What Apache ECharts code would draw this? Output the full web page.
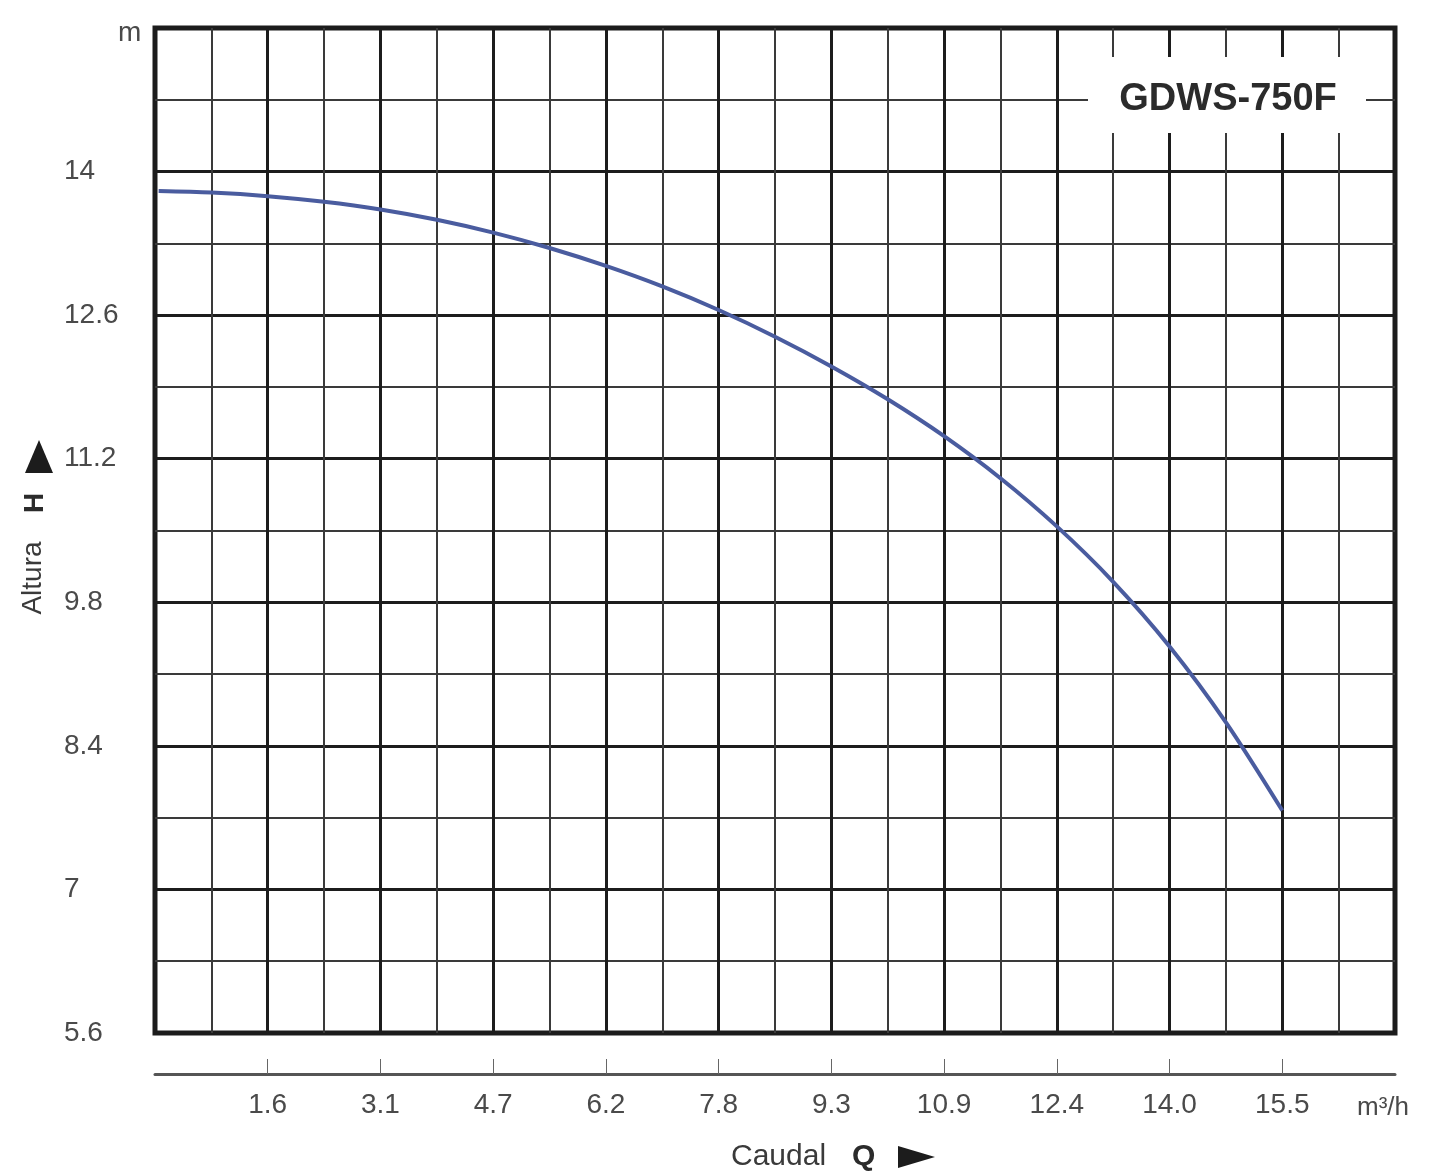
<!DOCTYPE html>
<html>
<head>
<meta charset="utf-8">
<title>GDWS-750F</title>
<script src="https://cdn.jsdelivr.net/npm/echarts@6/dist/echarts.min.js"></script>
<style>
  html, body { margin: 0; padding: 0; background: #fff; }
  #main { width: 1429px; height: 1173px; }
</style>
</head>
<body>
<div id="main"></div>
<script>
// caudal Q (m³/h) y altura H (m)
let caudal = [0.05, 0.775, 1.55, 2.325, 3.1, 3.875, 4.65, 5.425, 6.2, 6.975, 7.75,
    8.525, 9.3, 10.075, 10.85, 11.625, 12.4, 13.175, 13.95, 14.725, 15.5];
let altura = [13.81, 13.795, 13.76, 13.705, 13.63, 13.53, 13.405, 13.255, 13.08, 12.88, 12.65,
    12.39, 12.10, 11.78, 11.42, 11.01, 10.54, 10.0, 9.37, 8.63, 7.77];

// ejes
let qTicks = [1.55, 3.1, 4.65, 6.2, 7.75, 9.3, 10.85, 12.4, 13.95, 15.5];
let qLabels = ['1.6', '3.1', '4.7', '6.2', '7.8', '9.3', '10.9', '12.4', '14.0', '15.5'];
let hTicks = [5.6, 7, 8.4, 9.8, 11.2, 12.6, 14];
let hLabels = ['5.6', '7', '8.4', '9.8', '11.2', '12.6', '14'];

const FONT = "'Liberation Sans', Arial, Helvetica, sans-serif";

function labelOf(ticks, labels, v) {
    for (let i = 0; i < ticks.length; i++) {
        if (Math.abs(ticks[i] - v) < 1e-6) {
            return labels[i];
        }
    }
    return '';
}

let myChart = echarts.init(document.getElementById('main'));

let option = {
    backgroundColor: '#fff',
    animation: false,
    grid: {
        left: 155,
        right: 34,
        top: 28,
        bottom: 140,
        show: true,
        borderWidth: 5,
        borderColor: '#1c1c1c'
    },
    xAxis: {
        type: 'value',
        min: 0,
        max: 17.05,
        interval: 1.55,
        offset: 41,
        axisLine: {
            show: true,
            lineStyle: { color: '#555', width: 3 }
        },
        axisTick: {
            show: true,
            inside: true,
            length: 15,
            customValues: qTicks,
            lineStyle: { color: '#666', width: 1 }
        },
        axisLabel: {
            customValues: qTicks,
            margin: 17,
            fontFamily: FONT,
            fontSize: 28,
            color: '#4a4a4a',
            formatter: v => labelOf(qTicks, qLabels, v)
        },
        splitLine: {
            show: true,
            lineStyle: { color: '#1c1c1c', width: 3 }
        },
        minorTick: { show: false, splitNumber: 2 },
        minorSplitLine: {
            show: true,
            lineStyle: { color: '#3a3a3a', width: 2 }
        }
    },
    yAxis: {
        type: 'value',
        min: 5.6,
        max: 15.4,
        interval: 1.4,
        axisLine: { show: false },
        axisTick: { show: false },
        axisLabel: {
            align: 'left',
            margin: 91,
            fontFamily: FONT,
            fontSize: 28,
            color: '#4a4a4a',
            formatter: v => labelOf(hTicks, hLabels, v)
        },
        splitLine: {
            show: true,
            lineStyle: { color: '#1c1c1c', width: 3 }
        },
        minorTick: { show: false, splitNumber: 2 },
        minorSplitLine: {
            show: true,
            lineStyle: { color: '#3a3a3a', width: 2 }
        }
    },
    series: [{
        name: 'GDWS-750F',
        type: 'line',
        data: caudal.map((q, i) => [q, altura[i]]),
        smooth: 0.3,
        showSymbol: false,
        lineStyle: { color: '#4a5c9f', width: 4 },
        z: 5
    }],
    graphic: [
        // recuadro del modelo
        {
            type: 'rect',
            z: 100,
            shape: { x: 1088, y: 57, width: 278, height: 76 },
            style: { fill: '#fff' }
        },
        {
            type: 'text',
            z: 101,
            x: 1228,
            y: 100,
            style: {
                text: 'GDWS-750F',
                font: "bold 38px " + FONT,
                fill: '#2b2b2b',
                align: 'center',
                verticalAlign: 'middle'
            }
        },
        // unidades
        {
            type: 'text',
            x: 118,
            y: 33,
            style: {
                text: 'm',
                font: "28px " + FONT,
                fill: '#4a4a4a',
                verticalAlign: 'middle'
            }
        },
        {
            type: 'text',
            x: 1357,
            y: 1108,
            style: {
                text: 'm³/h',
                font: "26px " + FONT,
                fill: '#4a4a4a',
                verticalAlign: 'middle'
            }
        },
        // nombre eje Y
        {
            type: 'text',
            x: 33,
            y: 578,
            rotation: Math.PI / 2,
            style: {
                text: 'Altura',
                font: "28px " + FONT,
                fill: '#3a3a3a',
                align: 'center',
                verticalAlign: 'middle'
            }
        },
        {
            type: 'text',
            x: 35,
            y: 503,
            rotation: Math.PI / 2,
            style: {
                text: 'H',
                font: "bold 28px " + FONT,
                fill: '#2b2b2b',
                align: 'center',
                verticalAlign: 'middle'
            }
        },
        {
            type: 'polygon',
            shape: { points: [[39, 440], [25, 473], [53, 473]] },
            style: { fill: '#1c1c1c' }
        },
        // nombre eje X
        {
            type: 'text',
            x: 731,
            y: 1157,
            style: {
                text: 'Caudal',
                font: "30px " + FONT,
                fill: '#3a3a3a',
                verticalAlign: 'middle'
            }
        },
        {
            type: 'text',
            x: 852,
            y: 1157,
            style: {
                text: 'Q',
                font: "bold 30px " + FONT,
                fill: '#2b2b2b',
                verticalAlign: 'middle'
            }
        },
        {
            type: 'polygon',
            shape: { points: [[898, 1146], [898, 1168], [935, 1157]] },
            style: { fill: '#1c1c1c' }
        }
    ]
};

myChart.setOption(option);
</script>
</body>
</html>
